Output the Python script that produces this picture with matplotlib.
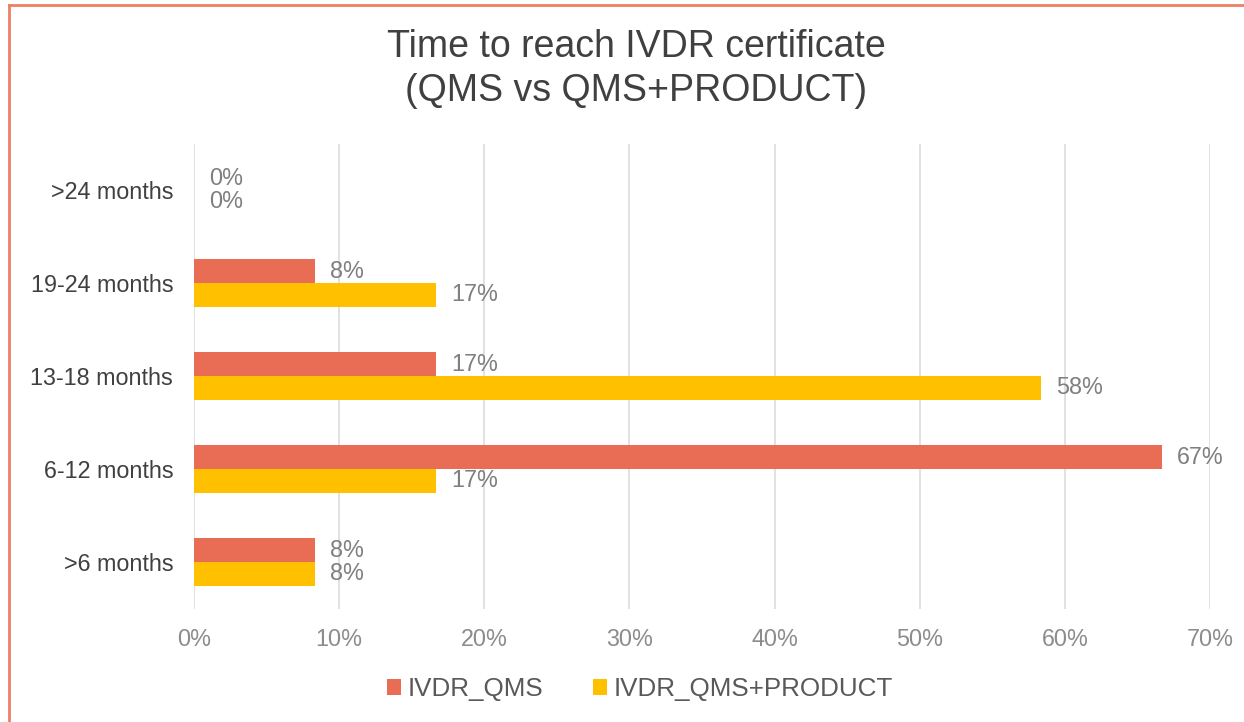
import matplotlib.pyplot as plt
import numpy as np
from matplotlib.lines import Line2D
from matplotlib.patches import Patch

plt.rcParams['font.family'] = ['Liberation Sans', 'DejaVu Sans']

# data (percent), top category first
categories = [">24 months", "19-24 months", "13-18 months", "6-12 months", ">6 months"]
qms = [0, 8.33, 16.67, 66.67, 8.33]
qms_product = [0, 16.67, 58.33, 16.67, 8.33]
series_names = ["IVDR_QMS", "IVDR_QMS+PRODUCT"]
x_ticks = [0, 10, 20, 30, 40, 50, 60, 70]

RED = "#E96C55"
YELLOW = "#FFC000"
GRID = "#DEDEDE"
TICK = "#8C8C8C"
LABEL = "#404040"
VALUE = "#7F7F7F"

fig = plt.figure(figsize=(12.44, 7.22), dpi=100)
ax = fig.add_axes([194 / 1244, 1 - 608.5 / 722, (1210 - 194) / 1244, 465 / 722])

y = np.arange(len(categories))[::-1].astype(float)
h = 0.258
b1 = ax.barh(y + h / 2, qms, h, color=RED, zorder=3)
b2 = ax.barh(y - h / 2, qms_product, h, color=YELLOW, zorder=3)

# value labels just past the end of each bar
for bars, vals in ((b1, qms), (b2, qms_product)):
    for r, v in zip(bars, vals):
        ax.annotate(f"{v:.0f}%", (v, r.get_y() + r.get_height() / 2),
                    xytext=(15, 0), textcoords="offset pixels",
                    ha="left", va="center", fontsize=16.8, color=VALUE)

ax.set_xlim(0, 70)
ax.set_ylim(-0.5, len(categories) - 0.5)
ax.set_xticks(x_ticks)
ax.set_xticklabels([f"{t}%" for t in x_ticks])
ax.set_yticks(y)
ax.set_yticklabels(categories)
ax.tick_params(axis="x", length=0, pad=14, labelsize=16.8, labelcolor=TICK)
ax.tick_params(axis="y", length=0, pad=15, labelsize=16.8, labelcolor=LABEL)
ax.grid(axis="x", color=GRID, linewidth=1.3, zorder=0)
for s in ax.spines.values():
    s.set_visible(False)

fig.text(636 / 1244, 1 - 69 / 722,
         "Time to reach IVDR certificate\n(QMS vs QMS+PRODUCT)",
         ha="center", va="center", fontsize=27, color="#404040", linespacing=1.28)

fig.legend(handles=[Patch(facecolor=RED, label=series_names[0]),
                    Patch(facecolor=YELLOW, label=series_names[1])],
           loc="center", bbox_to_anchor=(640 / 1244, 1 - 689 / 722), ncol=2,
           frameon=False, fontsize=18.7, handlelength=0.55, handleheight=0.55,
           handletextpad=0.25, columnspacing=1.9, labelcolor="#595959")

# chart border (salmon frame)
fig.add_artist(Line2D([9 / 1244, 9 / 1244], [0, 1 - 5 / 722], color="#EE8064",
                      linewidth=2, transform=fig.transFigure))
fig.add_artist(Line2D([9 / 1244, 1], [1 - 5 / 722, 1 - 5 / 722], color="#EE8064",
                      linewidth=2, transform=fig.transFigure))

fig.savefig("out.png", dpi=100)
